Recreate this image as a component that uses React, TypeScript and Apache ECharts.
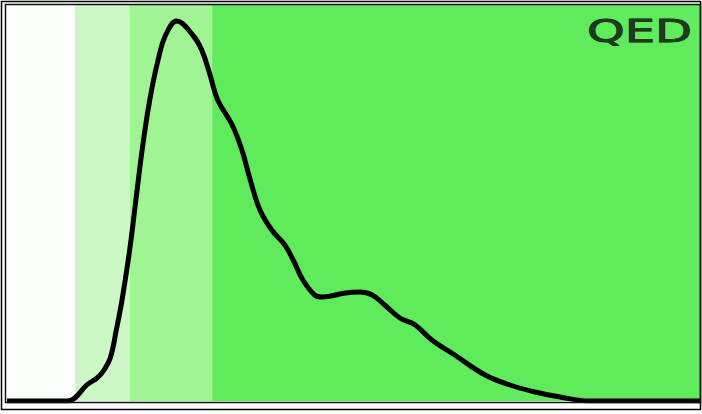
import React, { useEffect, useRef } from "react";
import * as echarts from "echarts";

// QED values (x) and density (y)
const qed = [0, 0.088, 0.098, 0.115, 0.130, 0.139, 0.149, 0.158, 0.166, 0.177, 0.186, 0.195, 0.206, 0.218, 0.229, 0.245, 0.268, 0.281, 0.293, 0.304, 0.325, 0.339, 0.351, 0.365, 0.382, 0.401, 0.413, 0.427, 0.444, 0.455, 0.488, 0.509, 0.527, 0.545, 0.567, 0.589, 0.613, 0.646, 0.690, 0.726, 0.762, 0.798, 0.841, 1];
const density = [0, 0, 0.03, 0.16, 0.23, 0.30, 0.43, 0.72, 1.01, 1.51, 2.01, 2.51, 3.01, 3.41, 3.66, 3.80, 3.66, 3.51, 3.26, 3.01, 2.76, 2.51, 2.21, 1.91, 1.71, 1.56, 1.41, 1.21, 1.06, 1.04, 1.08, 1.09, 1.06, 0.96, 0.83, 0.76, 0.61, 0.46, 0.26, 0.16, 0.09, 0.04, 0, 0];

// background bands (QED ranges)
const bandStarts = [0, 0.098, 0.177, 0.296];
const bandEnds = [0.098, 0.177, 0.296, 1];
const bandColors = ["#fcfffc", "#cbf8c4", "#a0f493", "#60eb5d"];

export default function App() {
  const ref = useRef<HTMLDivElement>(null);
  useEffect(() => {
    const chart = echarts.init(ref.current!, undefined, { renderer: "svg" });
    const points = qed.map((q, i) => [q, density[i]]);
    chart.setOption({
      animation: false,
      grid: { left: 7, right: 2, top: 5, bottom: 13 },
      xAxis: { type: "value", min: 0, max: 1, show: false },
      yAxis: { type: "value", min: 0, max: 3.96, show: false },
      graphic: [
        { type: "rect", shape: { x: 1.5, y: 1.5, width: 699, height: 408 }, style: { fill: "none", stroke: "#000", lineWidth: 1.5 }, z: 10 },
        { type: "rect", shape: { x: 5.5, y: 4.5, width: 695, height: 398 }, style: { fill: "none", stroke: "#111", lineWidth: 1.5 }, z: 10 },
        {
          type: "text",
          x: 587,
          y: 15,
          scaleX: 1.5,
          style: { text: "QED", fontFamily: "DejaVu Sans", fontWeight: "normal", fontSize: 32, fill: "#1f3a1f", stroke: "#0a0a0a", lineWidth: 0.8 },
          z: 10,
        },
      ],
      series: [
        {
          type: "line",
          data: points,
          smooth: 0.4,
          symbol: "none",
          lineStyle: { color: "#000", width: 5 },
          z: 5,
          markArea: {
            silent: true,
            data: bandStarts.map((s, i) => [
              { xAxis: s, itemStyle: { color: bandColors[i] } },
              { xAxis: bandEnds[i] },
            ]),
          },
        },
      ],
    });
    return () => chart.dispose();
  }, []);
  return <div ref={ref} style={{ position: "fixed", left: 0, top: 0, width: 702, height: 414, background: "#fff" }} />;
}
